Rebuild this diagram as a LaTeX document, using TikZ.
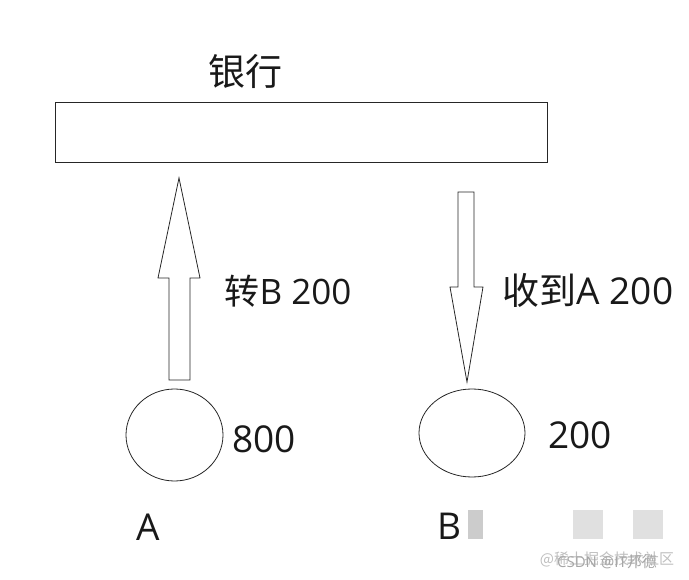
\documentclass[tikz,border=0pt]{standalone}
\usepackage{fontspec}
\usetikzlibrary{shapes.geometric}
\setmainfont{Open Sans}
\newfontfamily\cjk{Noto Sans CJK SC}
\tikzset{
  shape line/.style={draw=black!85, line width=0.8pt},
  lbl/.style={inner sep=0pt, text=black!90},
  big/.style={font=\fontsize{37}{42}\selectfont},
  mid/.style={font=\fontsize{35}{40}\selectfont},
  wm/.style={inner sep=0pt, font=\fontsize{15}{18}\selectfont},
}
\begin{document}
\begin{tikzpicture}[x=1pt,y=-1pt]
\useasboundingbox (0,0) rectangle (689,580);
% bank
\node[shape line, minimum width=492pt, minimum height=60pt, inner sep=0pt] (bank) at (301,132) {};
\node[lbl, font=\fontsize{37}{42}\selectfont\cjk] (banklbl) at (245,71) {银行};
% up arrow (A -> bank)
\draw[shape line, line join=miter] (169,380) -- (190,380) -- (190,278) -- (200,278) -- (179,178) -- (158,278) -- (169,278) -- cycle;
% down arrow (bank -> B)
\draw[shape line, line join=miter] (458,192) -- (474,192) -- (474,287) -- (483,287) -- (467,382) -- (450,287) -- (458,287) -- cycle;
\node[lbl, mid] (t1) at (288,291) {{\cjk 转}B 200};
\node[lbl, big] (t2) at (588,290) {{\cjk 收到}A 200};
% accounts
\node[shape line, ellipse, minimum width=97pt, minimum height=92pt, inner sep=0pt] (acA) at (174.5,435) {};
\node[shape line, ellipse, minimum width=106pt, minimum height=88pt, inner sep=0pt] (acB) at (472,433) {};
\node[lbl, big] (balA) at (264,439) {800};
\node[lbl, big] (balB) at (580,435) {200};
\node[lbl, big] (nameA) at (148,527) {A};
\node[lbl, big] (nameB) at (449,526) {B};
% watermark
\fill[black!20] (468,510) rectangle (483,539);
\fill[black!12] (573,510) rectangle (603,539);
\fill[black!12] (633,510) rectangle (663,539);
\node[wm, text=black!25] (wm1) at (607,559) {{\cjk @稀土掘金技术社区}};
\node[wm, text=black!35] (wm2) at (607,562) {CSDN @IT{\cjk 邦德}};
\end{tikzpicture}
\end{document}
